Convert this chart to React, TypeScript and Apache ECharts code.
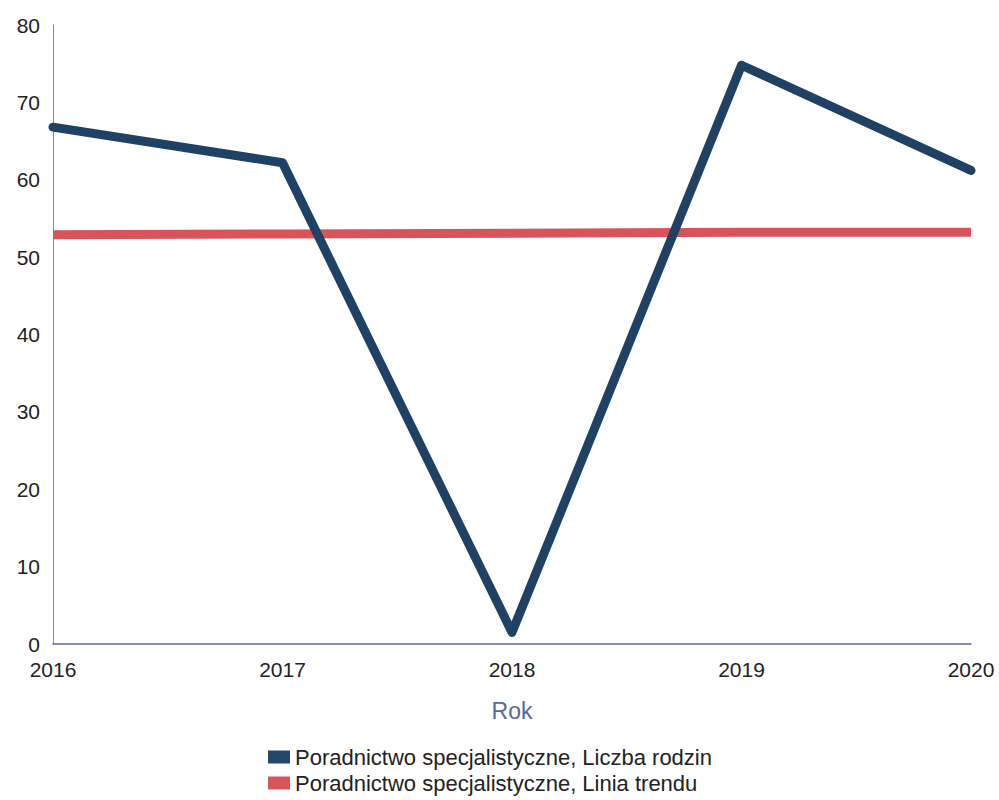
import React, { useEffect, useRef } from "react";
import * as echarts from "echarts";

const years = ["2016", "2017", "2018", "2019", "2020"];
const liczbaRodzin = [66.8, 62.2, 1.5, 74.8, 61.2];
const liniaTrendu = [52.9, 53.0, 53.1, 53.2, 53.2];
const yTicks = { min: 0, max: 80, interval: 10 };

const NAME_A = "Poradnictwo specjalistyczne, Liczba rodzin";
const NAME_B = "Poradnictwo specjalistyczne, Linia trendu";

const FONT = "Liberation Sans, Arial, sans-serif";

export default function App() {
  const ref = useRef<HTMLDivElement>(null);
  useEffect(() => {
    if (!ref.current) return;
    const chart = echarts.init(ref.current, undefined, { renderer: "svg" });
    chart.setOption({
      animation: false,
      backgroundColor: "#ffffff",
      textStyle: { fontFamily: FONT },
      grid: { left: 53, right: 28, top: 25, bottom: 156, containLabel: false },
      legend: {
        orient: "vertical",
        left: 263,
        top: 741,
        icon: "rect",
        itemWidth: 22,
        itemHeight: 13,
        itemGap: 4,
        textStyle: { fontSize: 22, color: "#222", fontFamily: FONT },
        data: [NAME_A, NAME_B],
      },
      xAxis: {
        type: "category",
        data: years,
        boundaryGap: false,
        name: "Rok",
        nameLocation: "middle",
        nameGap: 55,
        nameTextStyle: { fontSize: 23, color: "#5b6796" },
        axisLine: { lineStyle: { color: "#5d6899", width: 1.5 } },
        axisTick: { show: false },
        axisLabel: { fontSize: 21, color: "#222", margin: 15 },
        splitLine: { show: false },
      },
      yAxis: {
        type: "value",
        min: yTicks.min,
        max: yTicks.max,
        interval: yTicks.interval,
        axisLine: { show: true, lineStyle: { color: "#7b88bb", width: 1 } },
        axisTick: { show: false },
        axisLabel: { fontSize: 21, color: "#222", margin: 13 },
        splitLine: { show: false },
      },
      series: [
        {
          name: NAME_A,
          type: "line",
          data: liczbaRodzin,
          symbol: "none",
          color: "#24476a",
          lineStyle: { width: 9, color: "#1f4264", join: "round", cap: "round" },
          z: 3,
        },
        {
          name: NAME_B,
          type: "line",
          data: liniaTrendu,
          symbol: "none",
          color: "#d9545a",
          lineStyle: { width: 9, color: "#d9545a" },
          z: 2,
        },
      ],
    });
    return () => chart.dispose();
  }, []);
  return <div ref={ref} style={{ width: 999, height: 800, position: "absolute", left: 0, top: 0 }} />;
}
